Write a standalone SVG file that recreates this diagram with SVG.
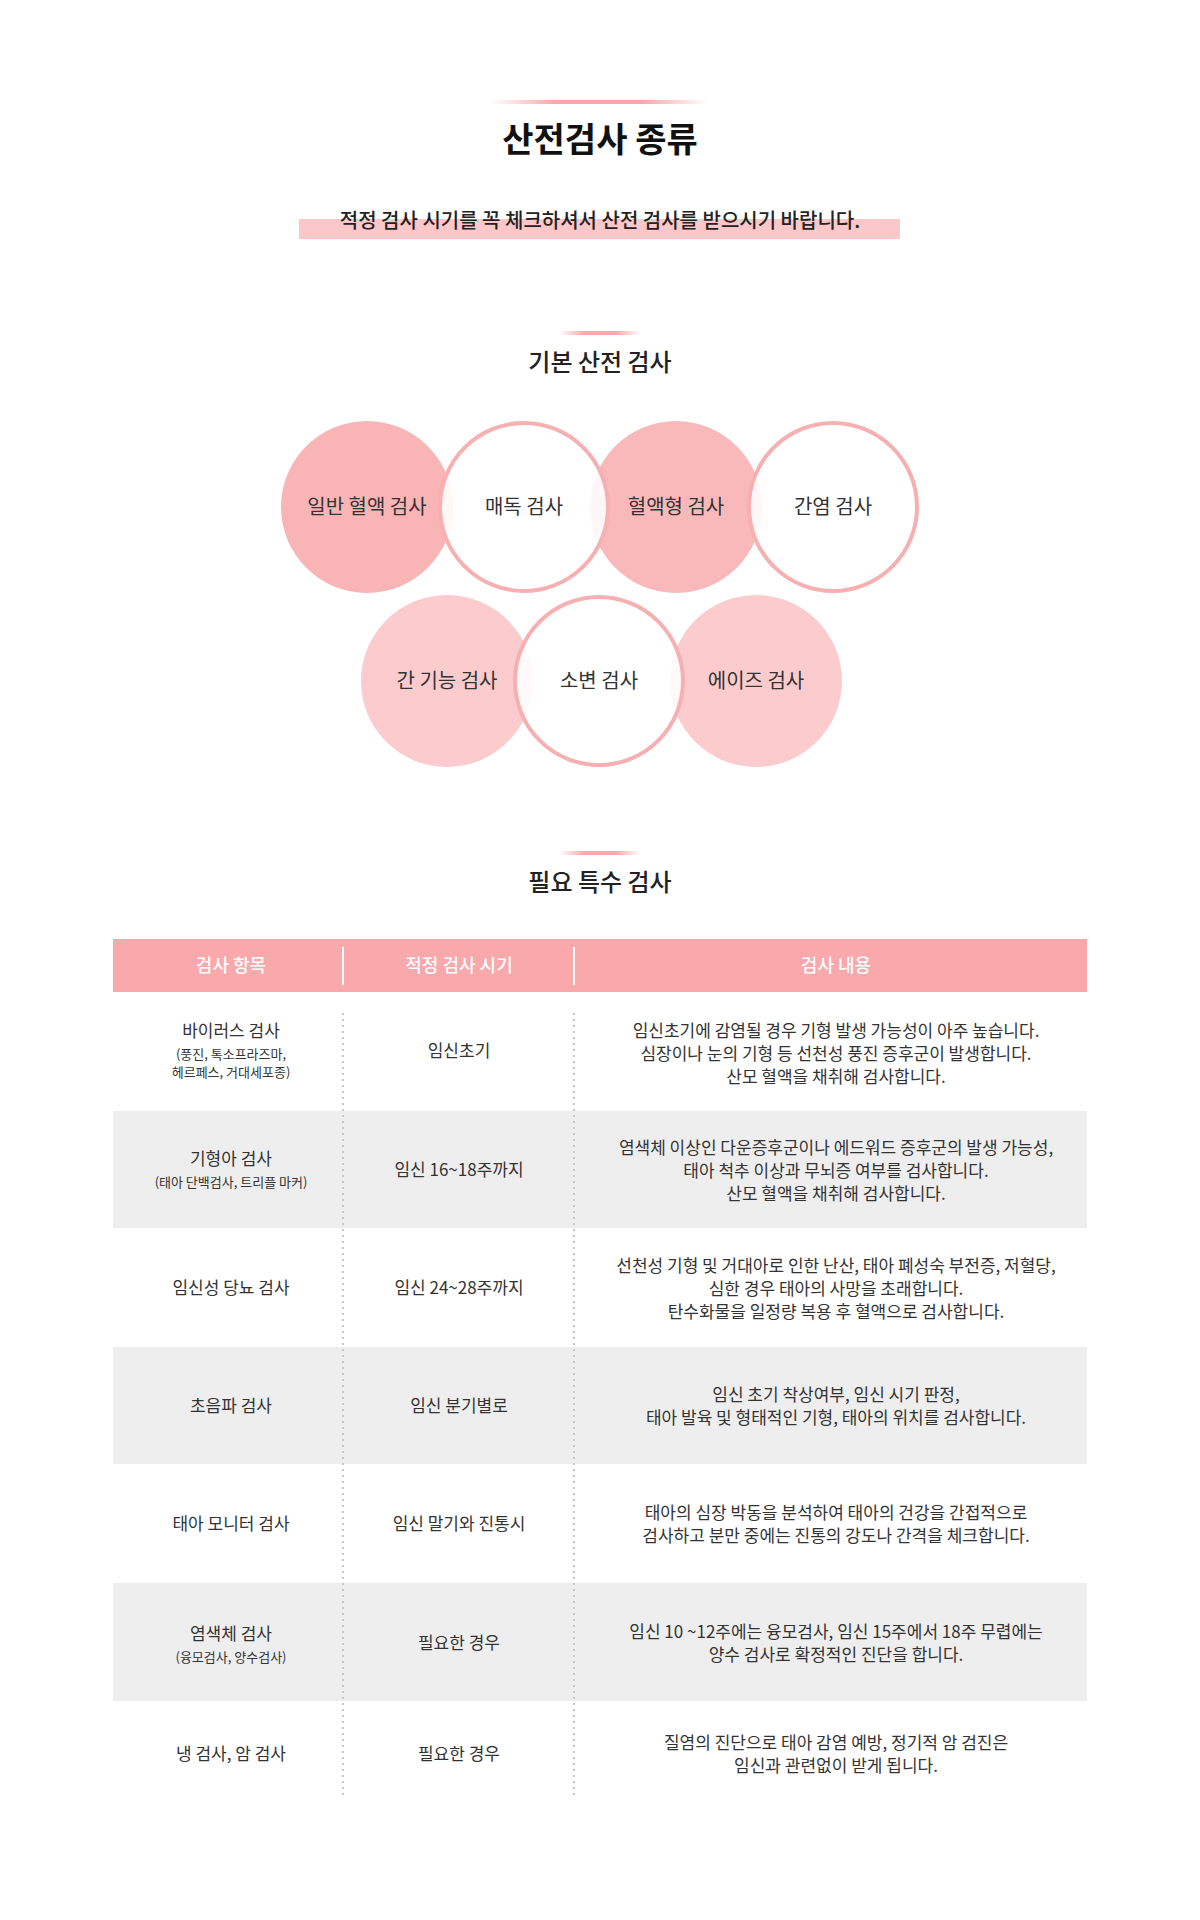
<svg xmlns="http://www.w3.org/2000/svg" width="1200" height="1920" viewBox="0 0 1200 1920">
<defs>
<linearGradient id="lg" x1="0" x2="1" y1="0" y2="0">
<stop offset="0" stop-color="#f7a9ab" stop-opacity="0"/><stop offset="0.3" stop-color="#f7a9ab"/><stop offset="0.7" stop-color="#f7a9ab"/><stop offset="1" stop-color="#f7a9ab" stop-opacity="0"/>
</linearGradient>
<style>
text{font-family:"Noto Sans CJK KR","Noto Sans",sans-serif;fill:#333;text-anchor:middle}
.t1{font-size:34px;font-weight:bold;fill:#111}
.t2{font-size:20px;font-weight:500;fill:#222}
.t3{font-size:24px;font-weight:500;fill:#222}
.c{font-size:20px}
.h{font-size:18px;fill:#fff;font-weight:500}
.b{font-size:17px}
.s{font-size:13px}
.ring{fill:#fff;fill-opacity:0.88;stroke:#f7b0b2;stroke-width:4}
.dot{stroke:#c8c8c8;stroke-width:2;stroke-dasharray:2 4}
</style>
</defs>
<rect width="1200" height="1920" fill="#fff"/>
<rect x="490" y="100" width="218" height="4" fill="url(#lg)"/>
<text class="t1" x="600" y="152">산전검사 종류</text>
<rect x="299" y="219" width="601" height="20" fill="#fcc7c9"/>
<text class="t2" x="600" y="228">적정 검사 시기를 꼭 체크하셔서 산전 검사를 받으시기 바랍니다.</text>
<rect x="560" y="331" width="80" height="4" fill="url(#lg)"/>
<text class="t3" x="600" y="371">기본 산전 검사</text>
<g id="n1"><circle cx="367" cy="507" r="86" fill="#f9b5b6"/></g>
<g id="n3"><circle cx="676" cy="507" r="86" fill="#f9b9ba"/></g>
<g id="n5"><circle cx="447" cy="681" r="86" fill="#fccbcd"/></g>
<g id="n7"><circle cx="756" cy="681" r="86" fill="#fccbcd"/></g>
<g id="n2"><circle class="ring" cx="524" cy="507" r="84"/></g>
<g id="n4"><circle class="ring" cx="833" cy="507" r="84"/></g>
<g id="n6"><circle class="ring" cx="599" cy="681" r="84"/></g>
<text class="c" x="367" y="514">일반 혈액 검사</text>
<text class="c" x="524" y="514">매독 검사</text>
<text class="c" x="676" y="514">혈액형 검사</text>
<text class="c" x="833" y="514">간염 검사</text>
<text class="c" x="447" y="688">간 기능 검사</text>
<text class="c" x="599" y="688">소변 검사</text>
<text class="c" x="756" y="688">에이즈 검사</text>
<rect x="560" y="851" width="80" height="4" fill="url(#lg)"/>
<text class="t3" x="600" y="891">필요 특수 검사</text>
<g id="table">
<rect x="113" y="939" width="974" height="53" fill="#f9a8ab"/>
<line x1="343" y1="947" x2="343" y2="985" stroke="#fff" stroke-width="2"/>
<line x1="574" y1="947" x2="574" y2="985" stroke="#fff" stroke-width="2"/>
<text class="h" x="231" y="972">검사 항목</text>
<text class="h" x="459" y="972">적정 검사 시기</text>
<text class="h" x="836" y="972">검사 내용</text>
<rect x="113" y="1111" width="974" height="117" fill="#eeeeee"/>
<rect x="113" y="1347" width="974" height="117" fill="#eeeeee"/>
<rect x="113" y="1583" width="974" height="118" fill="#eeeeee"/>
<line class="dot" x1="343" y1="1013" x2="343" y2="1798"/>
<line class="dot" x1="574" y1="1013" x2="574" y2="1798"/>
</g>
<g class="b">
<text class="b" x="231" y="1037">바이러스 검사</text>
<text class="s" x="231" y="1059">(풍진, 톡소프라즈마,</text>
<text class="s" x="231" y="1077">헤르페스, 거대세포종)</text>
<text class="b" x="459" y="1057">임신초기</text>
<text class="b" x="836" y="1037">임신초기에 감염될 경우 기형 발생 가능성이 아주 높습니다.</text>
<text class="b" x="836" y="1060">심장이나 눈의 기형 등 선천성 풍진 증후군이 발생합니다.</text>
<text class="b" x="836" y="1083">산모 혈액을 채취해 검사합니다.</text>

<text class="b" x="231" y="1165">기형아 검사</text>
<text class="s" x="231" y="1187">(태아 단백검사, 트리플 마커)</text>
<text class="b" x="459" y="1176">임신 16~18주까지</text>
<text class="b" x="836" y="1154">염색체 이상인 다운증후군이나 에드워드 증후군의 발생 가능성,</text>
<text class="b" x="836" y="1177">태아 척추 이상과 무뇌증 여부를 검사합니다.</text>
<text class="b" x="836" y="1200">산모 혈액을 채취해 검사합니다.</text>

<text class="b" x="231" y="1294">임신성 당뇨 검사</text>
<text class="b" x="459" y="1294">임신 24~28주까지</text>
<text class="b" x="836" y="1272">선천성 기형 및 거대아로 인한 난산, 태아 폐성숙 부전증, 저혈당,</text>
<text class="b" x="836" y="1295">심한 경우 태아의 사망을 초래합니다.</text>
<text class="b" x="836" y="1318">탄수화물을 일정량 복용 후 혈액으로 검사합니다.</text>

<text class="b" x="231" y="1412">초음파 검사</text>
<text class="b" x="459" y="1412">임신 분기별로</text>
<text class="b" x="836" y="1401">임신 초기 착상여부, 임신 시기 판정,</text>
<text class="b" x="836" y="1424">태아 발육 및 형태적인 기형, 태아의 위치를 검사합니다.</text>

<text class="b" x="231" y="1530">태아 모니터 검사</text>
<text class="b" x="459" y="1530">임신 말기와 진통시</text>
<text class="b" x="836" y="1519">태아의 심장 박동을 분석하여 태아의 건강을 간접적으로</text>
<text class="b" x="836" y="1542">검사하고 분만 중에는 진통의 강도나 간격을 체크합니다.</text>

<text class="b" x="231" y="1640">염색체 검사</text>
<text class="s" x="231" y="1662">(융모검사, 양수검사)</text>
<text class="b" x="459" y="1649">필요한 경우</text>
<text class="b" x="836" y="1638">임신 10 ~12주에는 융모검사, 임신 15주에서 18주 무렵에는</text>
<text class="b" x="836" y="1661">양수 검사로 확정적인 진단을 합니다.</text>

<text class="b" x="231" y="1760">냉 검사, 암 검사</text>
<text class="b" x="459" y="1760">필요한 경우</text>
<text class="b" x="836" y="1749">질염의 진단으로 태아 감염 예방, 정기적 암 검진은</text>
<text class="b" x="836" y="1772">임신과 관련없이 받게 됩니다.</text>
</g>
</svg>
